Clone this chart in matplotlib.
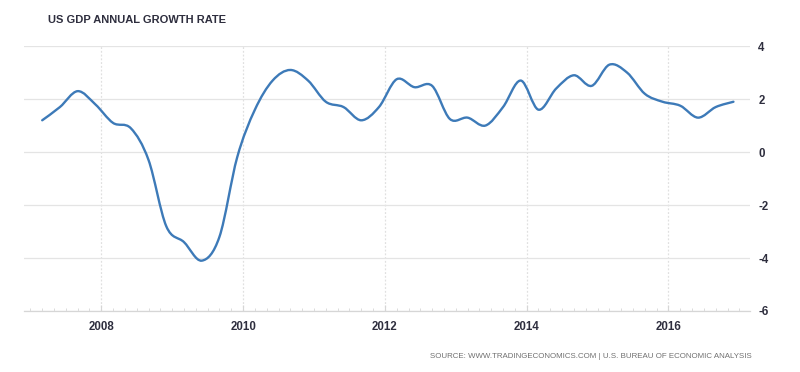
import numpy as np
import matplotlib
matplotlib.use("Agg")
import matplotlib.pyplot as plt
from matplotlib.path import Path
from matplotlib.patches import PathPatch
from matplotlib.ticker import MultipleLocator

# quarterly US GDP annual growth rate (%), 2007Q1 - 2016Q4
years = [y for y in range(2007, 2017) for _ in range(4)]
quarters = [1, 2, 3, 4] * 10
growth = [1.2, 1.7, 2.3, 1.8,
          1.1, 0.9, -0.3, -2.8,
          -3.4, -4.1, -3.2, -0.2,
          1.6, 2.7, 3.1, 2.7,
          1.9, 1.7, 1.2, 1.7,
          2.75, 2.45, 2.5, 1.25,
          1.3, 1.0, 1.7, 2.7,
          1.6, 2.4, 2.9, 2.5,
          3.3, 3.0, 2.2, 1.9,
          1.75, 1.3, 1.7, 1.9]
x_ticks = [2008, 2010, 2012, 2014, 2016]
y_ticks = [4, 2, 0, -2, -4, -6]

TITLE = "US GDP ANNUAL GROWTH RATE"
SOURCE = "SOURCE: WWW.TRADINGECONOMICS.COM | U.S. BUREAU OF ECONOMIC ANALYSIS"
LINE = "#3d7ab8"
TXT = "#2e2e3e"


def spline_path(xs, ys, k=1 / 6):
    # catmull-rom style bezier: the renderer draws the smooth curve
    n = len(xs)
    tang = []
    for i in range(n):
        a = max(i - 1, 0)
        b = min(i + 1, n - 1)
        tang.append((xs[b] - xs[a], ys[b] - ys[a]))
    verts = [(xs[0], ys[0])]
    codes = [Path.MOVETO]
    for i in range(1, n):
        c1 = (xs[i - 1] + k * tang[i - 1][0], ys[i - 1] + k * tang[i - 1][1])
        c2 = (xs[i] - k * tang[i][0], ys[i] - k * tang[i][1])
        verts += [c1, c2, (xs[i], ys[i])]
        codes += [Path.CURVE4] * 3
    return Path(verts, codes)


def main() -> None:
    xs = [y + (3 * q - 1) / 12 for y, q in zip(years, quarters)]

    fig = plt.figure(figsize=(8, 3.72), dpi=100)
    ax = fig.add_axes([0.03, 0.164, 0.9075, 0.712])

    ax.add_patch(PathPatch(spline_path(xs, growth), fill=False,
                           edgecolor=LINE, lw=1.7, capstyle="round",
                           joinstyle="round", zorder=3))

    ax.set_xlim(2006.91, 2017.15)
    ax.set_ylim(-6, 4)

    ax.set_xticks(x_ticks)
    ax.set_xticklabels([str(t) for t in x_ticks])
    ax.xaxis.set_minor_locator(MultipleLocator(1 / 6))
    ax.set_yticks(y_ticks)
    ax.set_yticklabels([str(t) for t in y_ticks])
    ax.yaxis.tick_right()

    ax.grid(axis="y", color="#e4e4e4", lw=0.9)
    ax.grid(axis="x", color="#e0e0e0", lw=0.9, ls=(0, (1.5, 1.5)))
    ax.set_axisbelow(True)

    for s in ["top", "left", "right"]:
        ax.spines[s].set_visible(False)
    ax.spines["bottom"].set_color("#d6d6d6")
    ax.spines["bottom"].set_linewidth(0.9)

    ax.tick_params(axis="x", which="major", length=4, color="#d6d6d6",
                   direction="in", labelsize=8.3, labelcolor=TXT, pad=7)
    ax.tick_params(axis="x", which="minor", length=2, color="#d6d6d6",
                   direction="in")
    ax.tick_params(axis="y", length=0, labelsize=8.3, labelcolor=TXT, pad=6)
    for lab in ax.get_xticklabels() + ax.get_yticklabels():
        lab.set_fontweight("bold")
        lab.set_family("Liberation Sans")

    fig.text(0.06, 0.945, TITLE, fontsize=8, fontweight="bold",
             family="Liberation Sans", color=TXT, va="center")
    fig.text(0.94, 0.043, SOURCE, fontsize=5.7, family="Liberation Sans",
             color="#707070", ha="right", va="center")

    fig.savefig("out.png", dpi=100)
    plt.close(fig)


if __name__ == "__main__":
    main()
